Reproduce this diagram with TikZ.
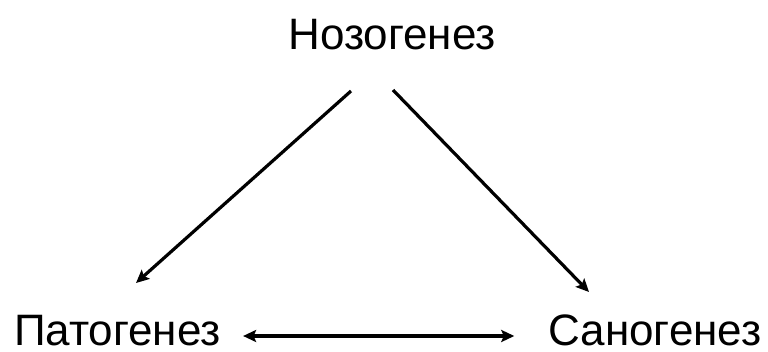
\documentclass[tikz,border=0pt]{standalone}
\usepackage{fontspec}
\setmainfont{Liberation Sans}
\usepackage{tikz}
\usetikzlibrary{arrows.meta}

\begin{document}
\begin{tikzpicture}[
  x=1pt,y=1pt,
  term/.style={inner sep=0pt,anchor=base,font=\fontsize{44}{50}\selectfont},
  ar/.style={-{Stealth[length=13pt,width=12pt,inset=2.5pt]},line width=3.2pt},
  dar/.style={{Stealth[length=13pt,width=12pt,inset=2.5pt]}-{Stealth[length=13pt,width=12pt,inset=2.5pt]},line width=3.2pt},
]
\useasboundingbox (0,0) rectangle (768,351);
\node[term] (noz) at (392,301) {Нозогенез};
\node[term] (pato) at (117.5,5.5) {Патогенез};
\node[term] (sano) at (655,5.5) {Саногенез};

\draw[ar] ([xshift=-41pt,yshift=-41pt]noz.base) -- ([xshift=18.5pt,yshift=62.5pt]pato.base);
\draw[ar] ([xshift=1pt,yshift=-40pt]noz.base) -- ([xshift=-66pt,yshift=53.5pt]sano.base);
\draw[dar] ([xshift=22pt,yshift=9.5pt]pato.base east) -- ([xshift=-34pt,yshift=9.5pt]sano.base west);
\end{tikzpicture}
\end{document}
